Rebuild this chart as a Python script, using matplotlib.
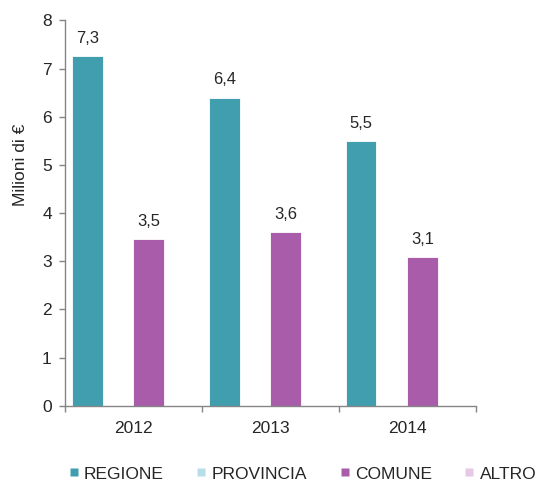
import matplotlib.pyplot as plt
import numpy as np
from matplotlib.lines import Line2D

plt.rcParams["font.family"] = ["Liberation Sans", "DejaVu Sans"]

YEARS = ["2012", "2013", "2014"]
SERIES = ["REGIONE", "PROVINCIA", "COMUNE", "ALTRO"]
REGIONE = [7.26, 6.4, 5.5]
PROVINCIA = [0, 0, 0]
COMUNE = [3.46, 3.6, 3.08]
ALTRO = [0, 0, 0]
COLORS = ["#409eae", "#b7dee8", "#a95ca9", "#e6c8e6"]

INK = "#262626"
AXIS = "#858585"

fig = plt.figure(figsize=(5.39, 4.83), dpi=100)
ax = fig.add_axes([0.1206, 0.160, 0.762, 0.7976])

x = np.arange(len(YEARS))
w = 0.9 / 4
values = [REGIONE, PROVINCIA, COMUNE, ALTRO]
for i, (vals, col) in enumerate(zip(values, COLORS)):
    pos = x - 0.45 + w * (i + 0.5)
    bars = ax.bar(pos, vals, width=w, color=col, edgecolor="white", linewidth=0.6)
    for b, v in zip(bars, vals):
        if v > 0:
            ax.annotate(f"{v:.1f}".replace(".", ","),
                        (b.get_x() + b.get_width() / 2, v),
                        xytext=(0, 9.5), textcoords="offset points",
                        ha="center", va="baseline", fontsize=12, color=INK)

ax.set_xlim(-0.5, 2.5)
ax.set_ylim(0, 8)
ax.set_yticks(range(0, 9))
ax.set_xticks(x)
ax.set_xticklabels(YEARS)
ax.set_xticks([-0.5, 0.5, 1.5, 2.5], minor=True)

for s in ["top", "right"]:
    ax.spines[s].set_visible(False)
for s in ["left", "bottom"]:
    ax.spines[s].set_color(AXIS)
    ax.spines[s].set_linewidth(1.0)

ax.tick_params(axis="y", direction="out", length=4.5, width=1.0, color=AXIS,
               labelsize=12.5, labelcolor=INK, pad=5)
ax.tick_params(axis="x", which="major", length=0, pad=11,
               labelsize=12.5, labelcolor=INK)
ax.tick_params(axis="x", which="minor", direction="out", length=4.5,
               width=1.0, color=AXIS)

fig.text(21 / 539, 1 - 165 / 483, "Milioni di €", rotation=90,
         ha="center", va="center", fontsize=12.5, color=INK)

handles = [Line2D([], [], marker="s", linestyle="none", markersize=6,
                  markerfacecolor=c, markeredgecolor="none") for c in COLORS]
fig.legend(handles, SERIES, loc="center", bbox_to_anchor=(0.561, 1 - 474 / 483),
           ncol=4, frameon=False, fontsize=12.5, handlelength=0.6,
           handletextpad=0.3, columnspacing=1.85, labelcolor=INK,
           borderpad=0.1, borderaxespad=0)

fig.savefig("out.png", dpi=100, facecolor="white")
